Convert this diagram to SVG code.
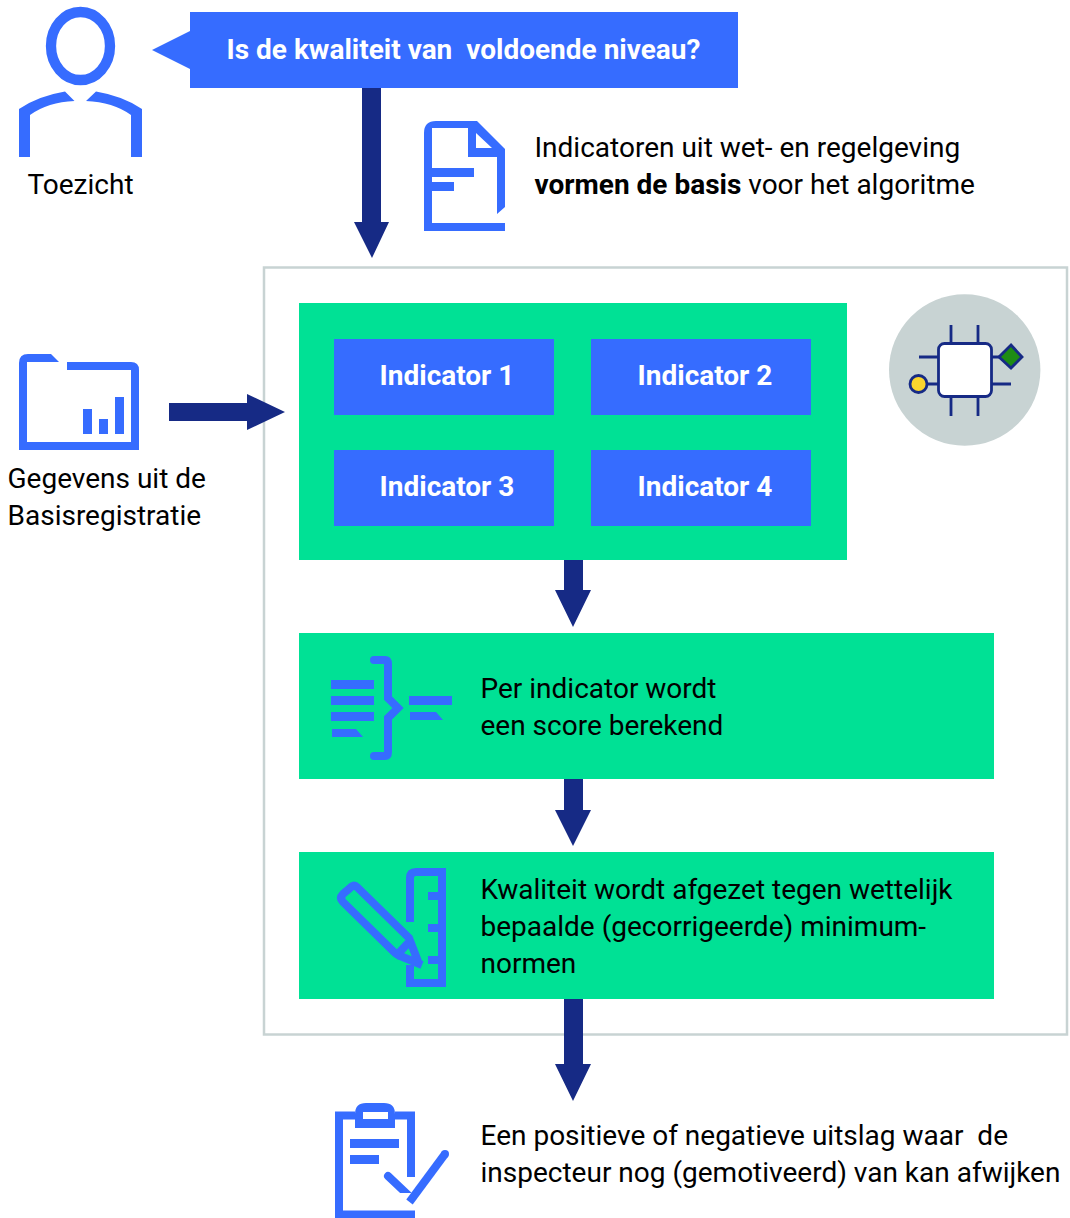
<svg xmlns="http://www.w3.org/2000/svg" width="1070" height="1218" viewBox="0 0 1070 1218">
<style>
text{font-family:Roboto,"Liberation Sans",sans-serif;font-size:28px;fill:#000;white-space:pre}
.w{fill:#fff;font-weight:700;text-anchor:middle}
.b{fill:#366cff}
.g{fill:#00e195}
.n{fill:#162a85}
.s{fill:none;stroke:#366cff}
.c{fill:none;stroke:#162a85;stroke-width:2.800}
</style>
<defs><clipPath id="cut"><rect x="375" y="1160" width="45" height="33"/></clipPath></defs>
<rect width="1070" height="1218" fill="#fff"/>
<rect x="264" y="267.500" width="803" height="767" fill="#fff" stroke="#c8d3d3" stroke-width="2.500"/>
<g id="connectors">
<path class="n" d="M362 88H381V222H389L372 258L354 222H362Z"/>
<path class="n" d="M169 403H247V394L285 412L247 430V421H169Z"/>
<path class="n" d="M564 560H583V590H591L573 627L555 590H564Z"/>
<path class="n" d="M564 779H583V810H591L573 846L555 810H564Z"/>
<path class="n" d="M564 999H583V1064H591L573 1101L555 1064H564Z"/>
</g>
<g id="toezicht">
<ellipse class="s" cx="80.500" cy="46" rx="29.500" ry="34" stroke-width="10.300"/>
<path class="b" d="M19 157V109Q38 96 65 91.500L74.500 101Q48 102 30 115V157ZM142 157V109Q123 96 96 91.500L86 101Q113 102 131 115V157Z"/>
<text x="80.500" y="193.500" text-anchor="middle">Toezicht</text>
</g>
<g id="vraag">
<path class="b" d="M152 50L190 31V12H738V88H190V69Z"/>
<text class="w" x="463.500" y="59">Is de kwaliteit van  voldoende niveau?</text>
</g>
<g id="indicatoren-wet">
<path class="b" fill-rule="evenodd" d="M424 231V133Q424 121 436 121H477L505 149V207L497 214V157H468V128H432V223H505V231ZM476 133L492 148H476Z"/>
<path class="b" d="M430 168H474V177H430ZM430 182H454V191H430Z"/>
<text x="534.500" y="157">Indicatoren uit wet- en regelgeving</text>
<text x="534.500" y="194"><tspan font-weight="700">vormen de basis</tspan> voor het algoritme</text>
</g>
<g id="basisregistratie">
<path class="b" d="M19 450V363Q19 354 28 354H51L59 362H27V442H131V370H67V362H131Q139 362 139 370V450Z"/>
<path class="b" d="M83 409H92V434H83ZM99 419H108V434H99ZM115 397H124V434H115Z"/>
<text x="7.500" y="488">Gegevens uit de</text>
<text x="7.500" y="525">Basisregistratie</text>
</g>
<g id="indicatorblok">
<rect class="g" x="299" y="303" width="548" height="257"/>
</g>
<g id="indicator-1"><rect class="b" x="334" y="339" width="220" height="76"/><text class="w" x="447" y="385">Indicator 1</text></g>
<g id="indicator-2"><rect class="b" x="591" y="339" width="220" height="76"/><text class="w" x="705" y="385">Indicator 2</text></g>
<g id="indicator-3"><rect class="b" x="334" y="450" width="220" height="76"/><text class="w" x="447" y="496">Indicator 3</text></g>
<g id="indicator-4"><rect class="b" x="591" y="450" width="220" height="76"/><text class="w" x="705" y="496">Indicator 4</text></g>
<g id="algoritme">
<circle cx="964.700" cy="370" r="75.700" fill="#c8d3d3"/>
<path class="c" d="M951 325V343M978 325V343M951 397V416M978 397V416M919 357H938M992 357H1001M927 384H938M992 384H1011"/>
<rect x="938.500" y="343.500" width="53" height="53" rx="6" fill="#fff" stroke="#162a85" stroke-width="2.800"/>
<circle cx="918.500" cy="384" r="8.500" fill="#fbd52e" stroke="#162a85" stroke-width="2.800"/>
<path d="M1011 345L1022 357L1011 368L999 357Z" fill="#1e8c14" stroke="#162a85" stroke-width="2.800"/>
</g>
<g id="score">
<rect class="g" x="299" y="633" width="695" height="146"/>
<path class="b" d="M331 680H374V689H331ZM331 696H374V705H331ZM331 712H374V721H331ZM332 729H356L363 737H332ZM409 696H452V705H409ZM410 712H436L443 720H410Z"/>
<path class="s" stroke-width="8" stroke-linecap="round" d="M374 660H385Q388 660 388 664V698L398 708L388 718V752Q388 756 385 756H374"/>
<text x="480.500" y="698">Per indicator wordt</text>
<text x="480.500" y="735">een score berekend</text>
</g>
<g id="kwaliteit">
<rect class="g" x="299" y="852" width="695" height="147"/>
<path class="s" stroke-width="8" d="M410 922V878Q410 872 416 872H442V983H410V965"/>
<path class="b" d="M428 892H442V900H428ZM428 924H442V932H428ZM428 956H442V964H428Z"/>
<path class="s" stroke-width="8" d="M419 964L409 938L357 887Q354 884 350 888L343 894Q339 898 343 902L394 952Q396 954 398 955L422 965M395 957L411 940"/>
<text x="480.500" y="899">Kwaliteit wordt afgezet tegen wettelijk</text>
<text x="480.500" y="936">bepaalde (gecorrigeerde) minimum-</text>
<text x="480.500" y="973">normen</text>
</g>
<g id="uitslag">
<path class="s" stroke-width="8" d="M355 1115.500H339V1214.500H415M411 1177V1115.500H395"/>
<path class="b" fill-rule="evenodd" d="M355 1128V1114Q355 1103 366 1103H384Q395 1103 395 1114V1128ZM363 1119H388V1112H363Z"/>
<path class="b" d="M350 1139H399V1148H350ZM350 1155H379V1164H350Z"/>
<path class="s" stroke-width="8" stroke-linecap="round" clip-path="url(#cut)" d="M388 1176L408 1195"/>
<path class="s" stroke-width="8" d="M445 1154L409.500 1202"/>
<circle class="b" cx="445" cy="1154" r="4"/>
<text x="480.500" y="1145">Een positieve of negatieve uitslag waar  de</text>
<text x="480.500" y="1182">inspecteur nog (gemotiveerd) van kan afwijken</text>
</g>
</svg>
